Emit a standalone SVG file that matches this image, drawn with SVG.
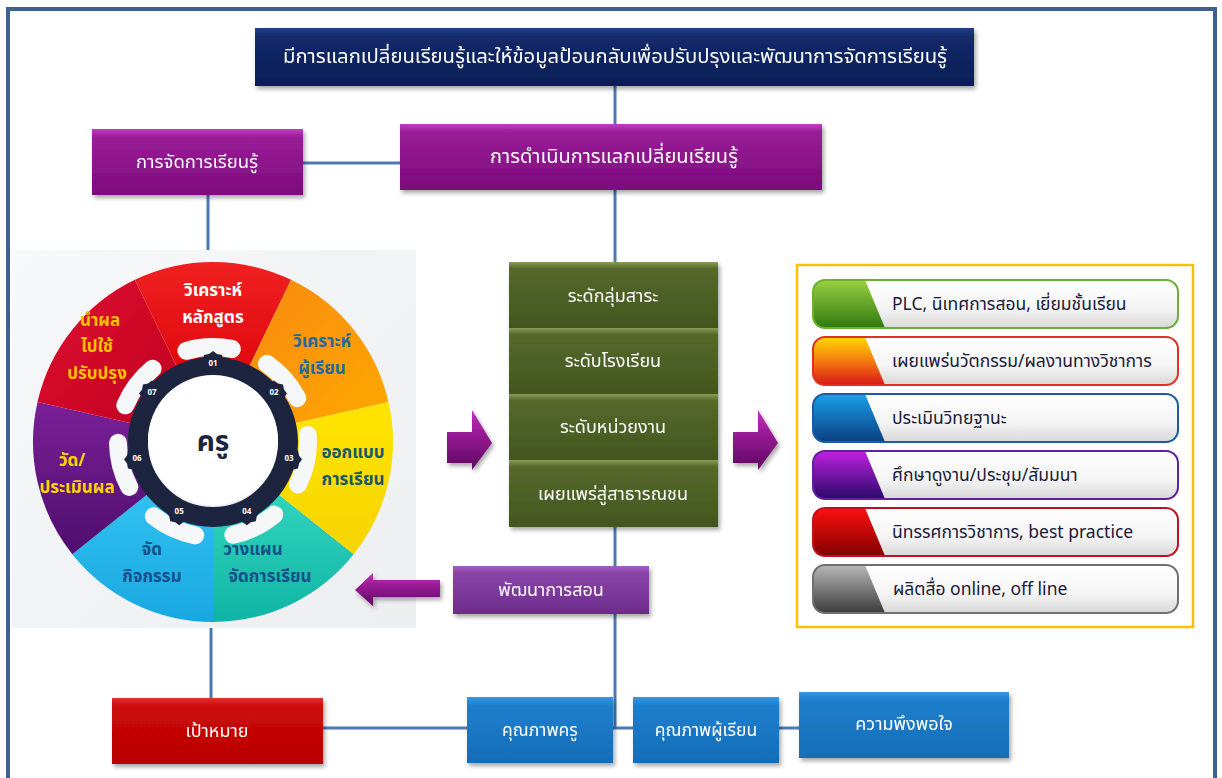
<svg xmlns="http://www.w3.org/2000/svg" width="1222" height="778" viewBox="0 0 1222 778">
<defs>
<style>
text{font-family:"Noto Sans Thai","Noto Sans","DejaVu Sans",sans-serif;text-anchor:middle;dominant-baseline:central}
.wt{fill:#ffffff}
.conn{stroke:#4a7ab5;stroke-width:3;fill:none}
.seg{font-weight:bold;font-size:17px}
.lst{text-anchor:start;font-size:17.5px;fill:#1a1a3a}
.num{font-size:8px;fill:#ffffff;font-weight:bold}
</style>
<filter id="sh" x="-10%" y="-10%" width="125%" height="135%">
<feDropShadow dx="2" dy="3" stdDeviation="2" flood-color="#000" flood-opacity="0.35"/>
</filter>
<linearGradient id="gNavy" x1="0" y1="0" x2="0" y2="1"><stop offset="0" stop-color="#22408a"/><stop offset="0.15" stop-color="#132a6a"/><stop offset="1" stop-color="#0b1e55"/></linearGradient>
<linearGradient id="gPur" x1="0" y1="0" x2="0" y2="1"><stop offset="0" stop-color="#c040c0"/><stop offset="0.12" stop-color="#9a1e98"/><stop offset="1" stop-color="#7c0a7c"/></linearGradient>
<linearGradient id="gLPur" x1="0" y1="0" x2="0" y2="1"><stop offset="0" stop-color="#a060c0"/><stop offset="0.15" stop-color="#8a44a8"/><stop offset="1" stop-color="#6c2c8c"/></linearGradient>
<linearGradient id="gGrn" x1="0" y1="0" x2="0" y2="1"><stop offset="0" stop-color="#8a9c58"/><stop offset="0.1" stop-color="#56692c"/><stop offset="1" stop-color="#43561f"/></linearGradient>
<linearGradient id="gRed" x1="0" y1="0" x2="0" y2="1"><stop offset="0" stop-color="#e83030"/><stop offset="0.12" stop-color="#cc0a0a"/><stop offset="1" stop-color="#b80000"/></linearGradient>
<linearGradient id="gBlu" x1="0" y1="0" x2="0" y2="1"><stop offset="0" stop-color="#3a98e0"/><stop offset="0.12" stop-color="#1f7fcc"/><stop offset="1" stop-color="#156db8"/></linearGradient>
<linearGradient id="gArr" x1="0" y1="0" x2="0" y2="1"><stop offset="0" stop-color="#c030b8"/><stop offset="0.5" stop-color="#8e168c"/><stop offset="1" stop-color="#5c0a60"/></linearGradient>
<linearGradient id="gPill" x1="0" y1="0" x2="0" y2="1"><stop offset="0" stop-color="#ffffff"/><stop offset="0.6" stop-color="#f4f4f4"/><stop offset="1" stop-color="#d8d8d8"/></linearGradient>
<linearGradient id="p1" x1="0" y1="0" x2="0" y2="1"><stop offset="0" stop-color="#9ad040"/><stop offset="1" stop-color="#2e7a10"/></linearGradient>
<linearGradient id="p2" x1="0" y1="0" x2="0" y2="1"><stop offset="0" stop-color="#ffd800"/><stop offset="0.5" stop-color="#f57a10"/><stop offset="1" stop-color="#d81818"/></linearGradient>
<linearGradient id="p3" x1="0" y1="0" x2="0" y2="1"><stop offset="0" stop-color="#1aa0ea"/><stop offset="1" stop-color="#0a3f80"/></linearGradient>
<linearGradient id="p4" x1="0" y1="0" x2="0" y2="1"><stop offset="0" stop-color="#c020e0"/><stop offset="1" stop-color="#2a0a6a"/></linearGradient>
<linearGradient id="p5" x1="0" y1="0" x2="0" y2="1"><stop offset="0" stop-color="#ff1010"/><stop offset="1" stop-color="#800000"/></linearGradient>
<linearGradient id="p6" x1="0" y1="0" x2="0" y2="1"><stop offset="0" stop-color="#b8b8b8"/><stop offset="1" stop-color="#3c3c3c"/></linearGradient>
<linearGradient id="sRed" x1="0" y1="0" x2="0" y2="1"><stop offset="0" stop-color="#f02020"/><stop offset="1" stop-color="#e00a10"/></linearGradient>
<linearGradient id="sOr" x1="0" y1="0" x2="1" y2="1"><stop offset="0" stop-color="#f88a10"/><stop offset="1" stop-color="#ffa800"/></linearGradient>
<linearGradient id="sYe" x1="0" y1="0" x2="0" y2="1"><stop offset="0" stop-color="#ffe400"/><stop offset="1" stop-color="#f6d400"/></linearGradient>
<linearGradient id="sTe" x1="0" y1="0" x2="0" y2="1"><stop offset="0" stop-color="#30d4bc"/><stop offset="1" stop-color="#10b4a4"/></linearGradient>
<linearGradient id="sCy" x1="0" y1="0" x2="0" y2="1"><stop offset="0" stop-color="#30c0f0"/><stop offset="1" stop-color="#18a8e0"/></linearGradient>
<linearGradient id="sPu" x1="0" y1="0" x2="0" y2="1"><stop offset="0" stop-color="#7a2098"/><stop offset="1" stop-color="#4e0e6e"/></linearGradient>
<linearGradient id="sCr" x1="0" y1="0" x2="1" y2="1"><stop offset="0" stop-color="#e01030"/><stop offset="1" stop-color="#c00020"/></linearGradient>
<linearGradient id="gPanel" x1="0" y1="0" x2="1" y2="1"><stop offset="0" stop-color="#f7f8f9"/><stop offset="1" stop-color="#eceef0"/></linearGradient>
<polygon id="badge" points="0,-13 4,-10 9,-9 10,-4 13,0 10,4 9,9 4,10 0,13 -4,10 -9,9 -10,4 -13,0 -10,-4 -9,-9 -4,-10" fill="#1c2440"/>
</defs>

<rect x="0" y="0" width="1222" height="778" fill="#ffffff"/>
<rect x="8" y="9" width="1207" height="790" fill="#ffffff" stroke="#3e6190" stroke-width="4"/>

<g id="connectors">
<line class="conn" x1="615" y1="86" x2="615" y2="124"/>
<line class="conn" x1="303" y1="163" x2="400" y2="163"/>
<line class="conn" x1="208" y1="195" x2="208" y2="250"/>
<line class="conn" x1="615" y1="190" x2="615" y2="262"/>
<line class="conn" x1="615" y1="527" x2="615" y2="566"/>
<line class="conn" x1="615" y1="614" x2="615" y2="728"/>
<line class="conn" x1="211" y1="628" x2="211" y2="698"/>
<line class="conn" x1="323" y1="728" x2="467" y2="728"/>
<line class="conn" x1="613" y1="728" x2="633" y2="728"/>
<line class="conn" x1="779" y1="728" x2="799" y2="728"/>
</g>

<g id="top-box" filter="url(#sh)">
<rect x="255" y="28" width="719" height="58" fill="url(#gNavy)"/>
<text class="wt" x="615" y="57" font-size="19" textLength="664" lengthAdjust="spacingAndGlyphs">มีการแลกเปลี่ยนเรียนรู้และให้ข้อมูลป้อนกลับเพื่อปรับปรุงและพัฒนาการจัดการเรียนรู้</text>
</g>
<g id="box-jadkan" filter="url(#sh)">
<rect x="92" y="129" width="211" height="66" fill="url(#gPur)"/>
<text class="wt" x="197" y="162" font-size="18.5">การจัดการเรียนรู้</text>
</g>
<g id="box-damnoen" filter="url(#sh)">
<rect x="400" y="124" width="422" height="66" fill="url(#gPur)"/>
<text class="wt" x="614" y="157" font-size="20">การดำเนินการแลกเปลี่ยนเรียนรู้</text>
</g>

<g id="wheel">
<rect x="12" y="250" width="404" height="378" fill="url(#gPanel)"/>
<path d="M278.7,494.4 L353.7,554.2 A180,180 0 0 1 213,622 L213,526 A84,84 0 0 0 278.7,494.4 Z" fill="url(#sTe)"/>
<path d="M213,526 L213,622 A180,180 0 0 1 72.3,554.2 L147.3,494.4 A84,84 0 0 0 213,526 Z" fill="url(#sCy)"/>
<path d="M147.3,494.4 L72.3,554.2 A180,180 0 0 1 37.5,402 L131.1,423.3 A84,84 0 0 0 147.3,494.4 Z" fill="url(#sPu)"/>
<path d="M131.1,423.3 L37.5,402 A180,180 0 0 1 134.9,279.8 L176.6,366.3 A84,84 0 0 0 131.1,423.3 Z" fill="url(#sCr)"/>
<path d="M176.6,366.3 L134.9,279.8 A180,180 0 0 1 291.1,279.8 L249.4,366.3 A84,84 0 0 0 176.6,366.3 Z" fill="url(#sRed)"/>
<path d="M249.4,366.3 L291.1,279.8 A180,180 0 0 1 388.5,402 L294.9,423.3 A84,84 0 0 0 249.4,366.3 Z" fill="url(#sOr)"/>
<path d="M294.9,423.3 L388.5,402 A180,180 0 0 1 353.7,554.2 L278.7,494.4 A84,84 0 0 0 294.9,423.3 Z" fill="url(#sYe)"/>
<circle cx="213" cy="442" r="95" fill="none" stroke="#f6f7f8" stroke-width="18" stroke-linecap="round" stroke-dasharray="46 38.37" stroke-dashoffset="1.9"/>
<circle cx="213" cy="442" r="75" fill="none" stroke="#1c2440" stroke-width="20"/>
<use href="#badge" x="213" y="364"/>
<use href="#badge" x="274" y="393.4"/>
<use href="#badge" x="289" y="459.4"/>
<use href="#badge" x="246.8" y="512.3"/>
<use href="#badge" x="179.2" y="512.3"/>
<use href="#badge" x="137" y="459.4"/>
<use href="#badge" x="152" y="393.4"/>
<text class="num" x="213" y="364">01</text>
<text class="num" x="274" y="393.4">02</text>
<text class="num" x="289" y="459.4">03</text>
<text class="num" x="246.8" y="512.3">04</text>
<text class="num" x="179.2" y="512.3">05</text>
<text class="num" x="137" y="459.4">06</text>
<text class="num" x="152" y="393.4">07</text>
<circle cx="213" cy="440" r="65" fill="#ffffff"/>
<text x="213" y="442" font-size="28" fill="#1c2440" font-weight="bold">ครู</text>
<text class="seg" x="213" y="291" fill="#ffffff">วิเคราะห์</text>
<text class="seg" x="213" y="318" fill="#ffffff">หลักสูตร</text>
<text class="seg" x="322" y="342" fill="#1f6aa0">วิเคราะห์</text>
<text class="seg" x="322" y="369" fill="#1f6aa0">ผู้เรียน</text>
<text class="seg" x="353" y="453" fill="#145a6a">ออกแบบ</text>
<text class="seg" x="353" y="480" fill="#145a6a">การเรียน</text>
<text class="seg" x="253" y="550" fill="#174f8a">วางแผน</text>
<text class="seg" x="270" y="577" fill="#174f8a">จัดการเรียน</text>
<text class="seg" x="152" y="550" fill="#174f8a">จัด</text>
<text class="seg" x="152" y="577" fill="#174f8a">กิจกรรม</text>
<text class="seg" x="72" y="461" fill="#ffd200">วัด/</text>
<text class="seg" x="77" y="488" fill="#ffd200">ประเมินผล</text>
<text class="seg" x="100" y="321" fill="#ffc000">นำผล</text>
<text class="seg" x="97" y="347" fill="#ffc000">ไปใช้</text>
<text class="seg" x="97" y="374" fill="#ffc000">ปรับปรุง</text>
</g>

<g id="arrows">
<path d="M373,580 L440,580 L440,597 L373,597 L373,606 L355,590 L373,573 Z" fill="url(#gArr)" filter="url(#sh)"/>
<path d="M447,432 L472,432 L472,410 L492,443 L472,470 L472,463 L447,463 Z" fill="url(#gArr)" filter="url(#sh)"/>
<path d="M733,432 L758,432 L758,410 L778,443 L758,470 L758,463 L733,463 Z" fill="url(#gArr)" filter="url(#sh)"/>
</g>

<g id="stack" filter="url(#sh)">
<rect x="509" y="262" width="209" height="66" fill="url(#gGrn)"/>
<rect x="509" y="328" width="209" height="66" fill="url(#gGrn)"/>
<rect x="509" y="394" width="209" height="66" fill="url(#gGrn)"/>
<rect x="509" y="460" width="209" height="67" fill="url(#gGrn)"/>
<text class="wt" x="613" y="296" font-size="18">ระดักลุ่มสาระ</text>
<text class="wt" x="613" y="361" font-size="18">ระดับโรงเรียน</text>
<text class="wt" x="613" y="427" font-size="18">ระดับหน่วยงาน</text>
<text class="wt" x="613" y="494" font-size="18">เผยแพร่สู่สาธารณชน</text>
</g>

<g id="box-pattana" filter="url(#sh)">
<rect x="453" y="566" width="196" height="48" fill="url(#gLPur)"/>
<text class="wt" x="551" y="590" font-size="18">พัฒนาการสอน</text>
</g>

<g id="list">
<rect x="797" y="265" width="396" height="362" fill="#ffffff" stroke="#ffc000" stroke-width="2.5"/>
<g id="item1">
<rect x="813" y="280" width="365" height="48" rx="12" fill="url(#gPill)"/>
<path d="M825,280 L865,280 L885,328 L825,328 Q813,328 813,316 L813,292 Q813,280 825,280 Z" fill="url(#p1)"/>
<rect x="813" y="280" width="365" height="48" rx="12" fill="none" stroke="#6cb030" stroke-width="2"/>
<text class="lst" x="892" y="304">PLC, นิเทศการสอน, เยี่ยมชั้นเรียน</text>
</g>
<g id="item2">
<rect x="813" y="337" width="365" height="48" rx="12" fill="url(#gPill)"/>
<path d="M825,337 L865,337 L885,385 L825,385 Q813,385 813,373 L813,349 Q813,337 825,337 Z" fill="url(#p2)"/>
<rect x="813" y="337" width="365" height="48" rx="12" fill="none" stroke="#e03020" stroke-width="2"/>
<text class="lst" x="892" y="361">เผยแพร่นวัตกรรม/ผลงานทางวิชาการ</text>
</g>
<g id="item3">
<rect x="813" y="394" width="365" height="48" rx="12" fill="url(#gPill)"/>
<path d="M825,394 L865,394 L885,442 L825,442 Q813,442 813,430 L813,406 Q813,394 825,394 Z" fill="url(#p3)"/>
<rect x="813" y="394" width="365" height="48" rx="12" fill="none" stroke="#1a5aa8" stroke-width="2"/>
<text class="lst" x="892" y="418">ประเมินวิทยฐานะ</text>
</g>
<g id="item4">
<rect x="813" y="451" width="365" height="48" rx="12" fill="url(#gPill)"/>
<path d="M825,451 L865,451 L885,499 L825,499 Q813,499 813,487 L813,463 Q813,451 825,451 Z" fill="url(#p4)"/>
<rect x="813" y="451" width="365" height="48" rx="12" fill="none" stroke="#6020a0" stroke-width="2"/>
<text class="lst" x="892" y="475">ศึกษาดูงาน/ประชุม/สัมมนา</text>
</g>
<g id="item5">
<rect x="813" y="508" width="365" height="48" rx="12" fill="url(#gPill)"/>
<path d="M825,508 L865,508 L885,556 L825,556 Q813,556 813,544 L813,520 Q813,508 825,508 Z" fill="url(#p5)"/>
<rect x="813" y="508" width="365" height="48" rx="12" fill="none" stroke="#c01020" stroke-width="2"/>
<text class="lst" x="892" y="532">นิทรรศการวิชาการ, best practice</text>
</g>
<g id="item6">
<rect x="813" y="565" width="365" height="48" rx="12" fill="url(#gPill)"/>
<path d="M825,565 L865,565 L885,613 L825,613 Q813,613 813,601 L813,577 Q813,565 825,565 Z" fill="url(#p6)"/>
<rect x="813" y="565" width="365" height="48" rx="12" fill="none" stroke="#707070" stroke-width="2"/>
<text class="lst" x="893" y="589">ผลิตสื่อ online, off line</text>
</g>
</g>

<g id="box-pao" filter="url(#sh)">
<rect x="112" y="698" width="211" height="66" fill="url(#gRed)"/>
<text class="wt" x="217" y="731" font-size="18">เป้าหมาย</text>
</g>
<g id="box-kru" filter="url(#sh)">
<rect x="467" y="697" width="146" height="66" fill="url(#gBlu)"/>
<text class="wt" x="540" y="730" font-size="17.5">คุณภาพครู</text>
</g>
<g id="box-nakrian" filter="url(#sh)">
<rect x="633" y="697" width="146" height="66" fill="url(#gBlu)"/>
<text class="wt" x="706" y="730" font-size="17.5">คุณภาพผู้เรียน</text>
</g>
<g id="box-pueng" filter="url(#sh)">
<rect x="799" y="692" width="210" height="66" fill="url(#gBlu)"/>
<text class="wt" x="904" y="724" font-size="18">ความพึงพอใจ</text>
</g>
</svg>
